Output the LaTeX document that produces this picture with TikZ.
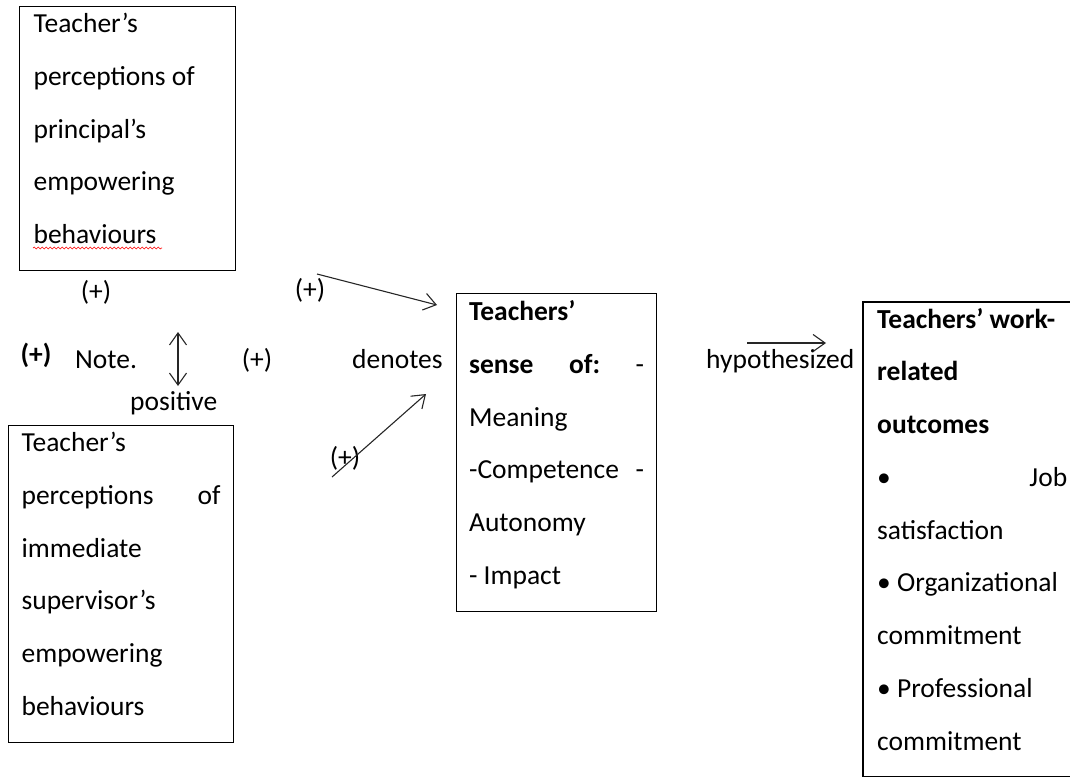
\documentclass[tikz,border=0pt]{standalone}
\usepackage{fontspec}
\setmainfont{Carlito}
\usetikzlibrary{arrows.meta,calc,decorations.pathmorphing}
\hyphenpenalty=10000
\exhyphenpenalty=10000
\tikzset{
    txt/.style={inner sep=0pt, font=\fontsize{27.5}{52.75}\selectfont},
    box/.style={txt, draw, line width=1.2pt, anchor=north west, align=flush left, inner xsep=#1},
    box/.default=14pt,
    barb/.tip={Straight Barb[length=12pt,width=17pt,line width=1.1pt]},
    arr/.style={line width=1.1pt, draw=black!85, -barb},
}
\begin{document}
\begin{tikzpicture}[x=1pt,y=-1pt]
    \useasboundingbox (0,0) rectangle (1070,777);
    %% left boxes
    \node[box, text width=188pt, text height=26pt, text depth=238pt] (prin) at (19,6)
        {Teacher’s\\ perceptions of\\ principal’s\\ empowering\\ behaviours};
    \draw[red, line width=0.6pt, decorate, decoration={snake,amplitude=0.9pt,segment length=4pt}]
        ($(prin.north west)+(14,242)$) -- ++(129,0);
    \node[box=13pt, text width=199pt, text height=26pt, text depth=291pt] (sup) at (8,425)
        {Teacher’s\\ perceptions\hfill of\\ immediate\\ supervisor’s\\ empowering\\ behaviours};
    %% middle box
    \node[box=12.5pt, text width=175pt, text height=27pt, text depth=291pt] (sense) at (456,293)
        {\textbf{Teachers’}\\ \textbf{sense}\hfill\textbf{of:}\hfill -\\ Meaning\\
         -Competence\hfill -\\ Autonomy\\ - Impact};
    %% right box (open on the right)
    \node[txt, anchor=north west, align=flush left, inner xsep=14pt, text width=190pt,
          text height=26pt, text depth=448pt] (outc) at (863,302)
        {\textbf{Teachers’ work-}\\ \textbf{related}\\ \textbf{outcomes}\\ •\hfill Job\\
         satisfaction\\ • Organizational\\ commitment\\ • Professional\\ commitment};
    \draw[line width=1.2pt] ($(outc.north west)+(207,0)$) -- (outc.north west)
        -- (outc.south west) -- ($(outc.south west)+(207,0)$);
    %% signs and note
    \node[txt] (plusA) at (96,292) {(+)};
    \node[txt] (plusB) at (310,290) {(+)};
    \node[txt, font=\fontsize{27.5}{33}\selectfont\bfseries] (plusN) at (36,355) {(+)};
    \node[txt, anchor=base west] (note) at (75,368) {Note.};
    \node[txt] (plusC) at (257,360) {(+)};
    \node[txt, anchor=base west] (denot) at (352,368) {denotes};
    \node[txt, anchor=base west] (posit) at (130,410) {positive};
    \node[txt] (plusD) at (345,458) {(+)};
    \node[txt, anchor=base west] (hypo) at (706,368) {hypothesized};
    %% arrows
    \coordinate (topS) at (317,274);
    \coordinate (topE) at (437,305);
    \coordinate (lowS) at (332,477);
    \coordinate (lowE) at (426,394);
    \coordinate (hypS) at (747,343);
    \coordinate (hypE) at (826,343);
    \coordinate (dblN) at (178,332);
    \coordinate (dblS) at (178,386);
    \draw[arr] (topS) -- (topE);
    \draw[arr] (lowS) -- (lowE);
    \draw[arr] (hypS) -- (hypE);
    \draw[arr, barb-barb] (dblN) -- (dblS);
\end{tikzpicture}
\end{document}
